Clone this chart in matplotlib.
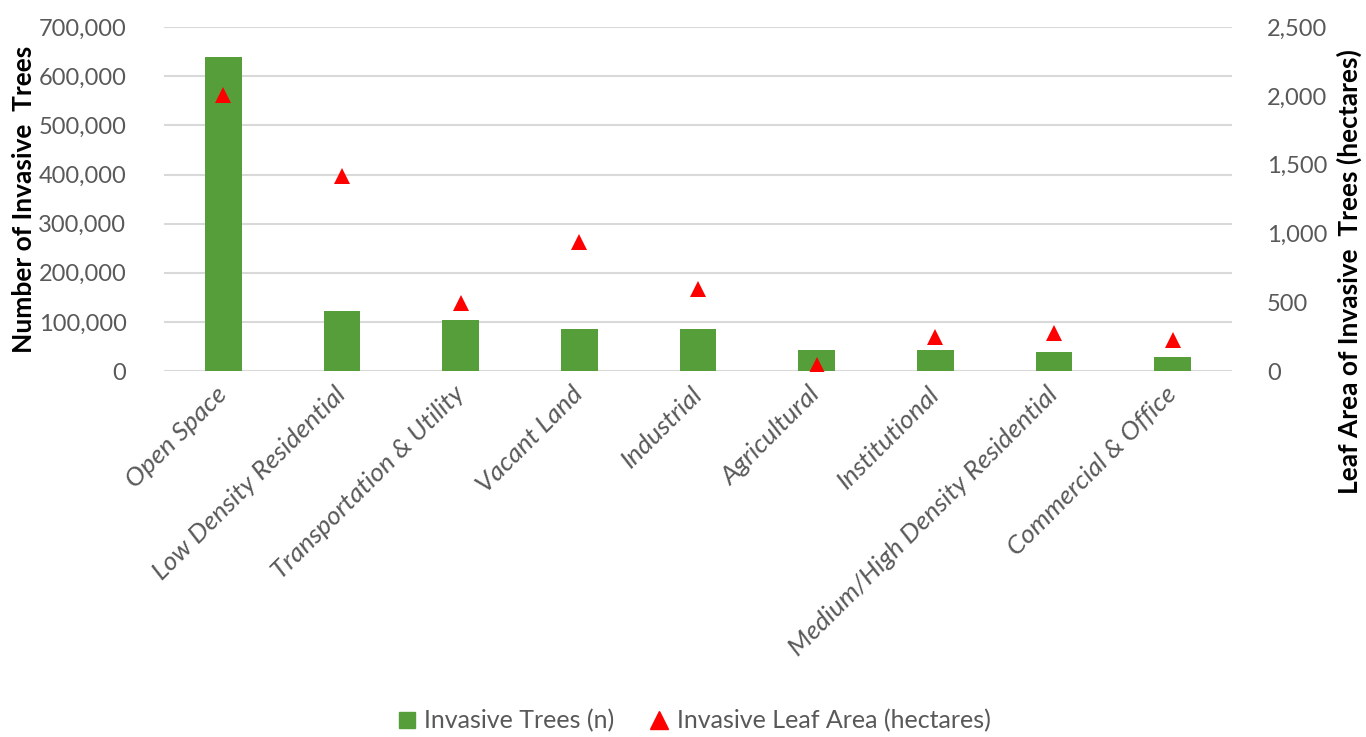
import numpy as np
import matplotlib.pyplot as plt
from matplotlib.ticker import FuncFormatter
from matplotlib.lines import Line2D

plt.rcParams['font.family'] = ['Lato', 'DejaVu Sans']

categories = ['Open Space', 'Low Density Residential', 'Transportation & Utility',
              'Vacant Land', 'Industrial', 'Agricultural', 'Institutional',
              'Medium/High Density Residential', 'Commercial & Office']
trees = [640000, 122000, 104000, 85000, 85000, 43000, 43000, 38000, 28500]
leaf_area = [2010, 1418, 498, 935, 593, 44, 244, 280, 225]

green = '#559E3A'
red = '#FF0000'
grey_txt = '#595959'
grid_c = '#D9D9D9'

fig = plt.figure(figsize=(13.66, 7.37), dpi=100)
ax = fig.add_axes([0.12, 0.4966, 0.782, 0.4664])
ax2 = ax.twinx()

x = np.arange(len(categories))
ax.bar(x, trees, width=0.31, color=green, zorder=2)
ax2.plot(x, leaf_area, linestyle='none', marker='^', markersize=11,
         color=red, markeredgewidth=0, zorder=3)

ax.set_xlim(-0.5, len(categories) - 0.5)
ax.set_ylim(0, 700000)
ax.set_yticks(np.arange(0, 700001, 100000))
ax2.set_ylim(0, 2500)
ax2.set_yticks(np.arange(0, 2501, 500))

fmt = FuncFormatter(lambda v, p: f'{int(v):,}')
ax.yaxis.set_major_formatter(fmt)
ax2.yaxis.set_major_formatter(fmt)

ax.grid(axis='y', color=grid_c, linewidth=1.5, zorder=0)
ax.set_axisbelow(True)
for a in (ax, ax2):
    for s in a.spines.values():
        s.set_visible(False)
    a.tick_params(length=0, labelsize=17, labelcolor=grey_txt)
ax.tick_params(axis='y', pad=27)
ax2.tick_params(axis='y', pad=25)
ax2.set_zorder(ax.get_zorder() + 1)
ax2.patch.set_visible(False)

ax.set_xticks(x)
ax.set_xticklabels(categories, rotation=45, ha='right', va='center',
                   rotation_mode='anchor', fontstyle='italic', fontsize=19)
ax.tick_params(axis='x', pad=14)

ax.set_ylabel('Number of Invasive  Trees', fontsize=19, fontweight='bold', color='black')
ax.yaxis.set_label_coords(-0.12, 0.5)
ax2.set_ylabel('Leaf Area of Invasive  Trees (hectares)', fontsize=19,
               fontweight='bold', color='black', rotation=90, va='center')
ax2.yaxis.set_label_coords(1.11, 0.29)

handles = [Line2D([], [], linestyle='none', marker='s', markersize=12, color=green),
           Line2D([], [], linestyle='none', marker='^', markersize=13, color=red)]
fig.legend(handles, ['Invasive Trees (n)', 'Invasive Leaf Area (hectares)'],
           loc='center', bbox_to_anchor=(0.506, 0.022), ncol=2, frameon=False,
           fontsize=18, labelcolor=grey_txt, handletextpad=0.1, handlelength=1.2,
           columnspacing=1.2)

fig.savefig('out.png', dpi=100)
